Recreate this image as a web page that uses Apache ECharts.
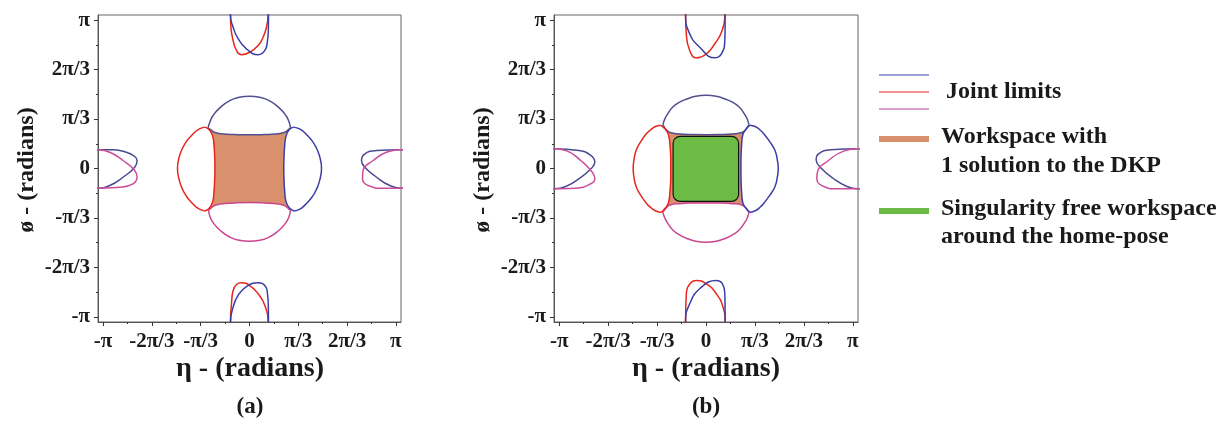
<!DOCTYPE html>
<html><head><meta charset="utf-8">
<script src="https://cdn.jsdelivr.net/npm/echarts@6/dist/echarts.min.js"></script>
<style>html,body{margin:0;padding:0;background:#fff}#c{width:1223px;height:421px}</style>
</head><body><div id="c"></div>
<script>
// ---- axis data (values in units of pi) ----
const tickValues = [-1, -2/3, -1/3, 0, 1/3, 2/3, 1];
const tickLabels = ['-π', '-2π/3', '-π/3', '0', 'π/3', '2π/3', 'π'];
const minorTickValues = [-5/6, -1/2, -1/6, 1/6, 1/2, 5/6];
const axisMin = -1.035, axisMax = 1.035;

// ---- panel (a) curves: [eta/pi, phi/pi] ----
const aCore = [[-0.27,0.274],[-0.237,0.243],[-0.18,0.233],[-0.1,0.229],[0,0.227],[0.1,0.229],[0.18,0.233],[0.237,0.243],[0.27,0.274],[0.25,0.22],[0.24,0.15],[0.235,0.05],[0.234,0],[0.235,-0.05],[0.24,-0.15],[0.25,-0.225],[0.27,-0.281],[0.237,-0.25],[0.2,-0.24],[0.1,-0.232],[0,-0.229],[-0.1,-0.232],[-0.2,-0.24],[-0.237,-0.25],[-0.27,-0.281],[-0.252,-0.225],[-0.242,-0.15],[-0.237,-0.05],[-0.236,0],[-0.237,0.05],[-0.242,0.15],[-0.252,0.22]];
const aTopOuter = [[-0.283,0.275],[-0.27,0.315],[-0.249,0.357],[-0.203,0.409],[-0.135,0.458],[-0.07,0.48],[0,0.4875],[0.07,0.48],[0.135,0.458],[0.203,0.409],[0.249,0.357],[0.27,0.315],[0.28,0.275]];
const aTopInner = [[-0.283,0.275],[-0.255,0.252],[-0.237,0.243],[-0.18,0.233],[-0.1,0.229],[0,0.227],[0.1,0.229],[0.18,0.233],[0.237,0.243],[0.255,0.252],[0.28,0.275]];
const aBottomOuter = [[-0.28,-0.283],[-0.268,-0.33],[-0.245,-0.37],[-0.2,-0.418],[-0.135,-0.462],[-0.07,-0.484],[0,-0.49],[0.07,-0.484],[0.135,-0.462],[0.2,-0.418],[0.245,-0.37],[0.268,-0.33],[0.28,-0.283]];
const aBottomInner = [[-0.28,-0.283],[-0.25,-0.255],[-0.2,-0.24],[-0.1,-0.232],[0,-0.229],[0.1,-0.232],[0.2,-0.24],[0.25,-0.255],[0.28,-0.283]];
const aLeftOuter = [[-0.305,0.279],[-0.345,0.265],[-0.385,0.234],[-0.425,0.19],[-0.454,0.144],[-0.478,0.085],[-0.492,0],[-0.478,-0.085],[-0.454,-0.148],[-0.425,-0.196],[-0.385,-0.24],[-0.345,-0.272],[-0.305,-0.286]];
const aLeftInner = [[-0.305,0.279],[-0.275,0.262],[-0.252,0.22],[-0.242,0.15],[-0.237,0.05],[-0.236,0],[-0.237,-0.05],[-0.242,-0.15],[-0.252,-0.225],[-0.275,-0.268],[-0.305,-0.286]];
const aRightOuter = [[0.3,0.279],[0.345,0.265],[0.385,0.234],[0.425,0.19],[0.454,0.144],[0.478,0.085],[0.492,0],[0.478,-0.085],[0.454,-0.148],[0.425,-0.196],[0.385,-0.24],[0.345,-0.274],[0.305,-0.286]];
const aRightInner = [[0.3,0.279],[0.272,0.262],[0.25,0.22],[0.24,0.15],[0.235,0.05],[0.234,0],[0.235,-0.05],[0.24,-0.15],[0.25,-0.225],[0.275,-0.268],[0.305,-0.286]];
const aLeftBlue = [[-1.1,0.126],[-1.039,0.126],[-0.932,0.126],[-0.841,0.11],[-0.784,0.081],[-0.768,0.054],[-0.784,0.009],[-0.864,-0.059],[-0.955,-0.115],[-1.039,-0.133],[-1.1,-0.134]];
const aLeftPink = [[-1.1,0.127],[-1.039,0.126],[-0.955,0.11],[-0.864,0.054],[-0.784,-0.013],[-0.768,-0.059],[-0.796,-0.103],[-0.886,-0.126],[-1.039,-0.133],[-1.1,-0.134]];
const aRightBlue = [[1.1,0.126],[1.034,0.126],[0.868,0.121],[0.788,0.099],[0.765,0.054],[0.788,0.009],[0.868,-0.059],[0.959,-0.115],[1.034,-0.133],[1.1,-0.134]];
const aRightPink = [[1.1,0.127],[1.034,0.126],[0.936,0.11],[0.845,0.054],[0.776,-0.013],[0.772,-0.069],[0.811,-0.115],[0.913,-0.133],[1.034,-0.133],[1.1,-0.134]];
const aTopRed = [[-0.13,1.1],[-0.13,1.034],[-0.127,0.953],[-0.112,0.863],[-0.089,0.796],[-0.055,0.767],[0.002,0.784],[0.059,0.829],[0.093,0.885],[0.116,0.953],[0.127,1.034],[0.128,1.1]];
const aTopBlue = [[-0.13,1.1],[-0.13,1.034],[-0.112,0.953],[-0.078,0.875],[-0.021,0.807],[0.059,0.767],[0.105,0.796],[0.123,0.863],[0.129,0.95],[0.13,1.1]];
const aBottomRed = [[-0.13,-1.1],[-0.13,-1.036],[-0.123,-0.912],[-0.112,-0.823],[-0.089,-0.782],[-0.055,-0.771],[0.002,-0.789],[0.059,-0.845],[0.105,-0.924],[0.127,-1.036],[0.128,-1.1]];
const aBottomBlue = [[-0.13,-1.1],[-0.13,-1.036],[-0.112,-0.935],[-0.078,-0.856],[-0.021,-0.796],[0.059,-0.771],[0.105,-0.789],[0.123,-0.845],[0.129,-0.95],[0.13,-1.1]];

// ---- panel (b) curves ----
const bCore = [[-0.265,0.262],[-0.245,0.243],[-0.18,0.233],[-0.1,0.229],[0,0.228],[0.1,0.229],[0.18,0.233],[0.245,0.243],[0.262,0.262],[0.25,0.225],[0.242,0.15],[0.238,0.05],[0.238,0],[0.238,-0.05],[0.242,-0.15],[0.25,-0.228],[0.262,-0.265],[0.245,-0.245],[0.18,-0.236],[0.1,-0.233],[0,-0.232],[-0.1,-0.233],[-0.18,-0.236],[-0.245,-0.245],[-0.265,-0.265],[-0.255,-0.228],[-0.245,-0.15],[-0.24,-0.05],[-0.24,0],[-0.24,0.05],[-0.245,0.15],[-0.255,0.225]];
const bGreenX = [-0.224, 0.222];
const bGreenY = [-0.221, 0.217];
const bTopOuter = [[-0.294,0.296],[-0.28,0.335],[-0.26,0.37],[-0.226,0.415],[-0.18,0.447],[-0.134,0.467],[-0.07,0.487],[0,0.494],[0.07,0.487],[0.134,0.467],[0.18,0.447],[0.226,0.415],[0.26,0.37],[0.28,0.335],[0.292,0.296]];
const bTopInner = [[-0.294,0.296],[-0.27,0.262],[-0.245,0.243],[-0.18,0.233],[-0.1,0.229],[0,0.228],[0.1,0.229],[0.18,0.233],[0.245,0.243],[0.27,0.262],[0.292,0.296]];
const bBottomOuter = [[-0.294,-0.296],[-0.28,-0.335],[-0.26,-0.37],[-0.226,-0.415],[-0.18,-0.448],[-0.134,-0.47],[-0.07,-0.49],[0,-0.497],[0.07,-0.49],[0.134,-0.47],[0.18,-0.448],[0.226,-0.415],[0.26,-0.37],[0.28,-0.335],[0.292,-0.296]];
const bBottomInner = [[-0.294,-0.296],[-0.27,-0.265],[-0.245,-0.246],[-0.18,-0.237],[-0.1,-0.233],[0,-0.232],[0.1,-0.233],[0.18,-0.237],[0.245,-0.246],[0.27,-0.265],[0.292,-0.296]];
const bLeftOuter = [[-0.31,0.292],[-0.345,0.283],[-0.38,0.258],[-0.408,0.232],[-0.445,0.18],[-0.476,0.121],[-0.492,0.05],[-0.496,0],[-0.492,-0.05],[-0.476,-0.121],[-0.445,-0.18],[-0.408,-0.232],[-0.38,-0.26],[-0.345,-0.285],[-0.305,-0.296]];
const bLeftInner = [[-0.31,0.292],[-0.275,0.262],[-0.255,0.225],[-0.245,0.15],[-0.24,0.05],[-0.24,0],[-0.24,-0.05],[-0.245,-0.15],[-0.255,-0.228],[-0.275,-0.265],[-0.305,-0.296]];
const bRightOuter = [[0.299,0.292],[0.335,0.283],[0.37,0.258],[0.395,0.232],[0.435,0.18],[0.47,0.121],[0.487,0.05],[0.492,0],[0.487,-0.05],[0.47,-0.121],[0.435,-0.18],[0.395,-0.232],[0.37,-0.26],[0.335,-0.285],[0.299,-0.296]];
const bRightInner = [[0.299,0.292],[0.27,0.262],[0.25,0.225],[0.242,0.15],[0.238,0.05],[0.238,0],[0.238,-0.05],[0.242,-0.15],[0.25,-0.228],[0.27,-0.265],[0.299,-0.296]];
const bLeftBlue = [[-1.1,0.133],[-1.035,0.133],[-0.864,0.121],[-0.784,0.088],[-0.757,0.043],[-0.784,-0.002],[-0.864,-0.069],[-0.955,-0.121],[-1.035,-0.137],[-1.1,-0.138]];
const bLeftPink = [[-1.1,0.134],[-1.035,0.133],[-0.944,0.117],[-0.853,0.054],[-0.774,-0.025],[-0.757,-0.069],[-0.784,-0.103],[-0.887,-0.133],[-1.035,-0.137],[-1.1,-0.138]];
const bRightBlue = [[1.1,0.133],[1.035,0.133],[0.848,0.126],[0.766,0.099],[0.75,0.059],[0.778,0.009],[0.869,-0.069],[0.96,-0.121],[1.035,-0.137],[1.1,-0.138]];
const bRightPink = [[1.1,0.134],[1.035,0.133],[0.937,0.117],[0.834,0.054],[0.759,-0.025],[0.755,-0.069],[0.79,-0.115],[0.892,-0.137],[1.035,-0.137],[1.1,-0.138]];
const bTopRed = [[-0.139,1.1],[-0.139,1.034],[-0.134,0.908],[-0.111,0.796],[-0.066,0.746],[0.003,0.773],[0.06,0.841],[0.105,0.919],[0.128,1.034],[0.129,1.1]];
const bTopBlue = [[-0.139,1.1],[-0.139,1.034],[-0.111,0.908],[-0.043,0.818],[0.06,0.746],[0.105,0.773],[0.128,0.863],[0.13,0.95],[0.13,1.1]];
const bBottomRed = [[-0.139,-1.1],[-0.139,-1.025],[-0.134,-0.845],[-0.1,-0.767],[-0.066,-0.755],[0.003,-0.778],[0.071,-0.845],[0.116,-0.935],[0.13,-1.03],[0.13,-1.1]];
const bBottomBlue = [[-0.139,-1.1],[-0.139,-1.025],[-0.111,-0.912],[-0.043,-0.811],[0.071,-0.755],[0.112,-0.778],[0.128,-0.845],[0.13,-0.95],[0.13,-1.1]];

// ---- styles ----
const C = {
  slate: '#50508f', blue: '#3d3da6', red: '#e8261e', pink: '#c9468f',
  sideBlue: '#4a4a92', sidePink: '#cc4d98', orange: '#d9916d', green: '#6cbb45', text: '#1a1a1a', axis: '#555'
};
const FONT = "'Liberation Serif','Times New Roman',serif";

function lineS(data, color, g) {
  return { type: 'line', xAxisIndex: g * 2, yAxisIndex: g * 2, data: data, smooth: 0.5,
    symbol: 'none', clip: true, silent: true, z: 5,
    lineStyle: { color: color, width: 1.5 } };
}
function polyS(data, color, g) {
  return { type: 'custom', xAxisIndex: g * 2, yAxisIndex: g * 2, data: data, silent: true, z: 2, clip: true,
    renderItem: function (params, api) {
      if (params.dataIndex !== 0) return null;
      const pts = data.map(p => api.coord(p));
      return { type: 'polygon', shape: { points: pts }, style: { fill: color, stroke: null } };
    } };
}
function rectS(xs, ys, g) {
  return { type: 'custom', xAxisIndex: g * 2, yAxisIndex: g * 2, data: [[xs[0], ys[0]]], silent: true, z: 3,
    renderItem: function (params, api) {
      const p0 = api.coord([xs[0], ys[1]]);
      const p1 = api.coord([xs[1], ys[0]]);
      return { type: 'rect', shape: { x: p0[0], y: p0[1], width: p1[0] - p0[0], height: p1[1] - p0[1], r: 7 },
        style: { fill: C.green, stroke: '#111', lineWidth: 1.2 }, z2: 10 };
    } };
}
function labelFmt(v) {
  const i = tickValues.findIndex(t => Math.abs(t - v) < 1e-6);
  return i >= 0 ? tickLabels[i] : '';
}

const grids = [
  { left: 98, top: 15, width: 303, height: 307 },
  { left: 554, top: 15, width: 304, height: 307 }
];
const xAxes = [], yAxes = [];
grids.forEach((g, gi) => {
  g.show = true; g.borderColor = '#666'; g.borderWidth = 1; g.backgroundColor = '#fff'; g.outerBoundsMode = 'none'; g.containLabel = false;
  xAxes.push({ type: 'value', gridIndex: gi, min: axisMin, max: axisMax, position: 'bottom',
    axisLine: { show: true, onZero: false, lineStyle: { color: C.axis, width: 1 } },
    axisTick: { show: true, inside: false, length: 4, customValues: tickValues, lineStyle: { color: '#333' } },
    axisLabel: { show: true, customValues: tickValues, formatter: labelFmt, margin: 9,
      fontFamily: FONT, fontWeight: 'bold', fontSize: 21, color: C.text },
    splitLine: { show: false } });
  xAxes.push({ type: 'value', gridIndex: gi, min: axisMin, max: axisMax, position: 'bottom',
    axisLine: { show: false, onZero: false },
    axisTick: { show: true, inside: false, length: 2, customValues: minorTickValues, lineStyle: { color: '#333' } },
    axisLabel: { show: false }, splitLine: { show: false } });
  yAxes.push({ type: 'value', gridIndex: gi, min: axisMin, max: axisMax, position: 'left',
    axisLine: { show: true, onZero: false, lineStyle: { color: C.axis, width: 1 } },
    axisTick: { show: true, inside: false, length: 4, customValues: tickValues, lineStyle: { color: '#333' } },
    axisLabel: { show: true, customValues: tickValues, formatter: labelFmt, margin: 8,
      fontFamily: FONT, fontWeight: 'bold', fontSize: 21, color: C.text },
    splitLine: { show: false } });
  yAxes.push({ type: 'value', gridIndex: gi, min: axisMin, max: axisMax, position: 'left',
    axisLine: { show: false, onZero: false },
    axisTick: { show: true, inside: false, length: 2, customValues: minorTickValues, lineStyle: { color: '#333' } },
    axisLabel: { show: false }, splitLine: { show: false } });
});

const series = [
  polyS(aCore, C.orange, 0),
  lineS(aTopOuter, C.slate, 0), lineS(aTopInner, C.slate, 0),
  lineS(aBottomOuter, C.pink, 0), lineS(aBottomInner, C.pink, 0),
  lineS(aLeftOuter, C.red, 0), lineS(aLeftInner, C.red, 0),
  lineS(aRightOuter, C.blue, 0), lineS(aRightInner, C.blue, 0),
  lineS(aLeftBlue, C.sideBlue, 0), lineS(aLeftPink, C.sidePink, 0),
  lineS(aRightBlue, C.sideBlue, 0), lineS(aRightPink, C.sidePink, 0),
  lineS(aTopRed, C.red, 0), lineS(aTopBlue, C.blue, 0),
  lineS(aBottomRed, C.red, 0), lineS(aBottomBlue, C.blue, 0),

  polyS(bCore, C.orange, 1),
  lineS(bTopOuter, C.slate, 1), lineS(bTopInner, C.slate, 1),
  lineS(bBottomOuter, C.pink, 1), lineS(bBottomInner, C.pink, 1),
  lineS(bLeftOuter, C.red, 1), lineS(bLeftInner, C.red, 1),
  lineS(bRightOuter, C.blue, 1), lineS(bRightInner, C.blue, 1),
  rectS(bGreenX, bGreenY, 1),
  lineS(bLeftBlue, C.sideBlue, 1), lineS(bLeftPink, C.sidePink, 1),
  lineS(bRightBlue, C.sideBlue, 1), lineS(bRightPink, C.sidePink, 1),
  lineS(bTopRed, C.red, 1), lineS(bTopBlue, C.blue, 1),
  lineS(bBottomRed, C.red, 1), lineS(bBottomBlue, C.blue, 1)
];

function txt(s, x, y, size, opts) {
  return Object.assign({ type: 'text', x: x, y: y, silent: true, z: 50,
    style: { text: s, fontFamily: FONT, fontWeight: 'bold', fontSize: size, fill: C.text,
      align: (opts && opts.align) || 'center', verticalAlign: 'middle' } }, opts && opts.rotation != null ? { rotation: opts.rotation } : {});
}
function hline(x1, x2, y, color, w) {
  return { type: 'line', silent: true, z: 50, shape: { x1: x1, y1: y, x2: x2, y2: y }, style: { stroke: color, lineWidth: w } };
}

const graphic = [
  txt('η - (radians)', 250, 369, 28), txt('(a)', 250, 407, 23),
  txt('η - (radians)', 706, 369, 28), txt('(b)', 706, 407, 23),
  txt('ø - (radians)', 27, 170, 24, { rotation: Math.PI / 2 }),
  txt('ø - (radians)', 483, 170, 24, { rotation: Math.PI / 2 }),
  hline(879, 929, 75, '#3a46aa', 1.2), hline(879, 929, 92, '#e82020', 1.2), hline(879, 929, 109, '#cc80bb', 1.5),
  txt('Joint limits', 946, 92, 24, { align: 'left' }),
  hline(879, 929, 139, C.orange, 6),
  txt('Workspace with', 941, 137, 24, { align: 'left' }),
  txt('1 solution to the DKP', 941, 166, 24, { align: 'left' }),
  hline(879, 929, 211, C.green, 6),
  txt('Singularity free workspace', 941, 209, 24, { align: 'left' }),
  txt('around the home-pose', 941, 237, 24, { align: 'left' })
];

const chart = echarts.init(document.getElementById('c'), null, { renderer: 'canvas' });
chart.setOption({
  animation: false, backgroundColor: '#fff',
  grid: grids, xAxis: xAxes, yAxis: yAxes, series: series, graphic: graphic
});
</script>
</body></html>
